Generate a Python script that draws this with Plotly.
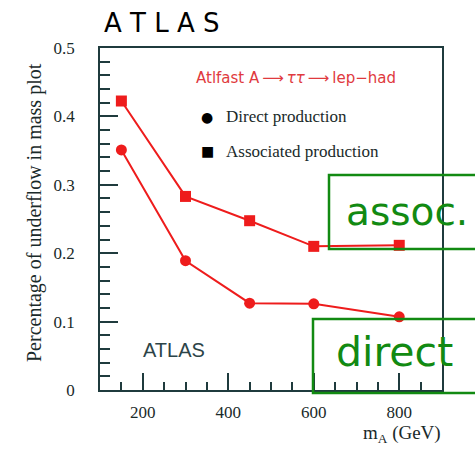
import plotly.graph_objects as go

mass = [150, 300, 450, 600, 800]
direct = [0.351, 0.189, 0.127, 0.126, 0.107]
assoc = [0.4225, 0.283, 0.2475, 0.210, 0.2115]

RED = "#ee1c1c"
FRAME = "#1f3b3d"
GREEN = "#128a12"
SERIF = "Liberation Serif"
TXT = "#1a2a2a"

fig = go.Figure()
fig.add_trace(go.Scatter(x=mass, y=assoc, mode="lines+markers",
                         line=dict(color=RED, width=2),
                         marker=dict(symbol="square", size=11, color=RED),
                         showlegend=False))
fig.add_trace(go.Scatter(x=mass, y=direct, mode="lines+markers",
                         line=dict(color=RED, width=2),
                         marker=dict(symbol="circle", size=11, color=RED),
                         showlegend=False))

axcommon = dict(showline=True, mirror=True, linecolor=FRAME, linewidth=1.5,
                showgrid=False, zeroline=False, ticks="inside", tickcolor=FRAME,
                tickwidth=1.5)
fig.update_xaxes(range=[100, 900], tick0=200, dtick=200, ticklen=17,
                 minor=dict(dtick=50, ticks="inside", ticklen=8, tickcolor=FRAME, tickwidth=1.5),
                 ticklabelstandoff=6, **axcommon)
fig.update_yaxes(range=[0, 0.5], tick0=0, dtick=0.1, ticklen=18,
                 minor=dict(dtick=0.02, ticks="inside", ticklen=10, tickcolor=FRAME, tickwidth=1.5),
                 ticklabelstandoff=20, **axcommon)
fig.update_xaxes(tickfont_family=SERIF, tickfont_size=17, tickfont_color=TXT)
fig.update_yaxes(tickfont_family=SERIF, tickfont_size=17, tickfont_color=TXT)

W, L, R = 475, 100, 33
pw = W - L - R
def px(xpix):
    return (xpix - L) / pw
T, B, H = 48, 59, 449
ph = H - T - B
def py(ypix):
    return (H - B - ypix) / ph

def note(xp, yp, text, font, xanchor="center", **kw):
    return dict(x=px(xp), y=py(yp), xref="paper", yref="paper", text=text,
                showarrow=False, xanchor=xanchor, yanchor="middle", font=font, **kw)

ann = [
    note(35, 213, "Percentage of underflow in mass plot",
         dict(family=SERIF, size=20, color=TXT), textangle=-90),
    note(443, 434, "m<sub>A</sub> (GeV)", dict(family=SERIF, size=19, color=TXT),
         xanchor="right"),
    note(162, 23, "A T L A S", dict(family="DejaVu Sans", size=26, color="black")),
    note(296, 78, "Atlfast A\u2009\u27f6\u2009<i>\u03c4\u03c4</i>\u2009\u27f6\u2009lep\u2212had",
         dict(family="DejaVu Sans", size=15, color="#e03a3e")),
    note(207, 117, "\u25cf", dict(family="DejaVu Sans", size=14, color="black")),
    note(207, 151, "\u25a0", dict(family="DejaVu Sans", size=14, color="black")),
    note(224, 117, "Direct production", dict(family=SERIF, size=17, color=TXT),
         xanchor="left"),
    note(224, 151, "Associated production", dict(family=SERIF, size=17, color=TXT),
         xanchor="left"),
    note(174, 350, "ATLAS", dict(family="Liberation Sans", size=20, color="#2c4448")),
    note(407, 211, "assoc.", dict(family="DejaVu Sans", size=39, color=GREEN)),
    note(394, 352, "direct", dict(family="DejaVu Sans", size=41, color=GREEN)),
]

shapes = [
    dict(type="rect", xref="paper", yref="paper", x0=px(329), x1=px(480),
         y0=py(249), y1=py(175), line=dict(color=GREEN, width=2.5)),
    dict(type="rect", xref="paper", yref="paper", x0=px(313), x1=px(480),
         y0=py(393), y1=py(319), line=dict(color=GREEN, width=2.5)),
]

fig.update_layout(width=W, height=H, margin=dict(l=L, r=R, t=T, b=B),
                  plot_bgcolor="white", paper_bgcolor="white",
                  font=dict(family=SERIF, color=TXT),
                  annotations=ann, shapes=shapes, showlegend=False)
fig.write_html("out.html")
